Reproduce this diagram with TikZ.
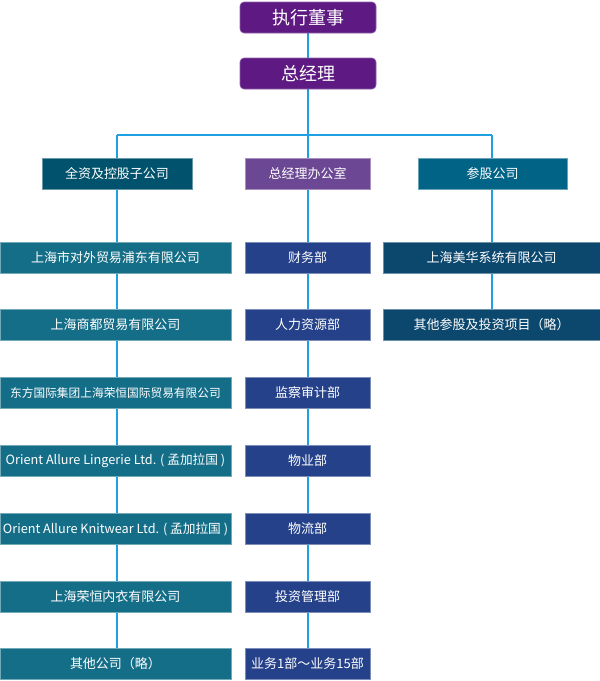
\documentclass[tikz,border=0pt]{standalone}
\usepackage{fontspec}
\setmainfont{Noto Sans CJK SC}
\usetikzlibrary{positioning}
\definecolor{toppurple}{HTML}{5E1A82}
\definecolor{subteal}{HTML}{01536D}
\definecolor{offpurple}{HTML}{6C4793}
\definecolor{parteal}{HTML}{016487}
\definecolor{leftteal}{HTML}{156E88}
\definecolor{midnavy}{HTML}{25418A}
\definecolor{rightnavy}{HTML}{0C486E}
\definecolor{linkblue}{HTML}{1DA1E2}
\tikzset{
  x=1pt, y=-1pt,
  box/.style={minimum height=31pt, inner sep=0pt, text=white, font=\fontsize{13}{15}\selectfont, line width=0.6pt},
  topbox/.style={box, fill=toppurple, draw=toppurple!70!white, rounded corners=4pt, minimum width=136pt, font=\fontsize{18}{20}\selectfont},
  lbox/.style={box, fill=leftteal, draw=leftteal!60!white, minimum width=231pt},
  mbox/.style={box, fill=midnavy, draw=midnavy!60!white, minimum width=125pt},
  rbox/.style={box, fill=rightnavy, draw=rightnavy!60!white, minimum width=217pt},
  longtext/.style={font=\fontsize{11.7}{14}\selectfont},
  latintext/.style={font=\fontsize{12.7}{15}\selectfont},
  link/.style={draw=linkblue, line width=2.4pt},
}
\begin{document}
\begin{tikzpicture}
\useasboundingbox (0,0) rectangle (600,681);
% coordinates for the bar
\coordinate (barL) at (117,135);
\coordinate (barM) at (308,135);
\coordinate (barR) at (492,135);
% links (drawn first, behind boxes)
\path[link] (barL) -- (barR);
\path[link] (barL) -- (117,648) coordinate (endL);
\path[link] (308,30) -- (308,648) coordinate (endM);
\path[link] (barR) -- (492,310) coordinate (endR);
% top boxes
\node[topbox] (ceo) at (308,17.5) {执行董事};
\node[topbox] (gm) at (308,73.5) {总经理};
% second level
\node[box, fill=subteal, draw=subteal!60!white, minimum width=150pt] (sub) at (117,173.5) {全资及控股子公司};
\node[box, fill=offpurple, draw=offpurple!60!white, minimum width=125pt] (office) at (307.5,173.5) {总经理办公室};
\node[box, fill=parteal, draw=parteal!60!white, minimum width=149pt] (par) at (492.5,173.5) {参股公司};
% left column
\node[lbox] (l1) at (115.5,257.5) {上海市对外贸易浦东有限公司};
\node[lbox] (l2) at (115.5,325) {上海商都贸易有限公司};
\node[lbox, longtext] (l3) at (115.5,393) {东方国际集团上海荣恒国际贸易有限公司};
\node[lbox, latintext] (l4) at (115.5,461) {Orient Allure Lingerie Ltd. ( 孟加拉国 )};
\node[lbox, latintext] (l5) at (115.5,529) {Orient Allure Knitwear Ltd. ( 孟加拉国 )};
\node[lbox] (l6) at (115.5,596.5) {上海荣恒内衣有限公司};
\node[lbox] (l7) at (115.5,664) {其他公司（略）};
% middle column
\node[mbox] (m1) at (307.5,257.5) {财务部};
\node[mbox] (m2) at (307.5,325) {人力资源部};
\node[mbox] (m3) at (307.5,393) {监察审计部};
\node[mbox] (m4) at (307.5,461) {物业部};
\node[mbox] (m5) at (307.5,529) {物流部};
\node[mbox] (m6) at (307.5,596.5) {投资管理部};
\node[mbox] (m7) at (307.5,664) {业务1部～业务15部};
% right column
\node[rbox] (r1) at (491.5,257.5) {上海美华系统有限公司};
\node[rbox] (r2) at (491.5,325) {其他参股及投资项目（略）};
\end{tikzpicture}
\end{document}
